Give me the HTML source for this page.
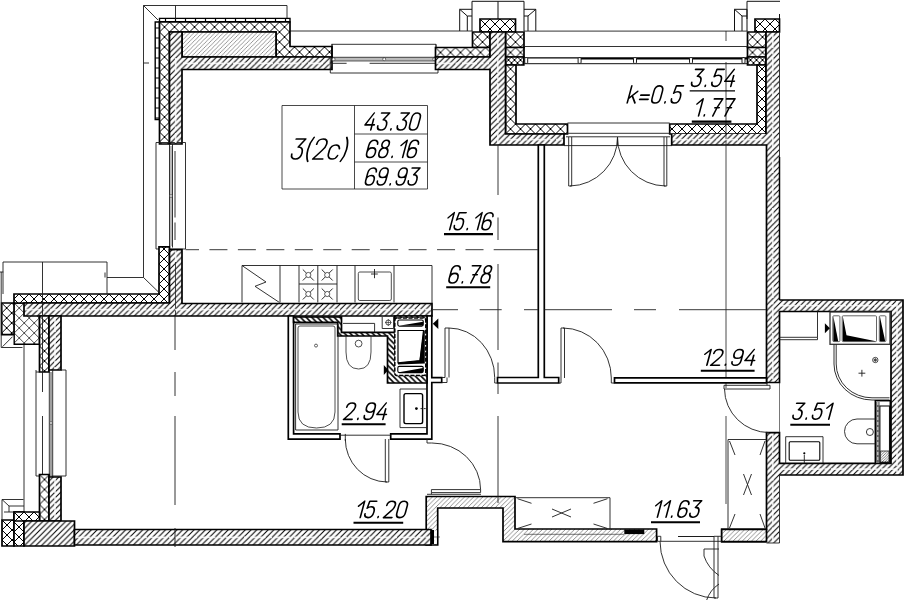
<!DOCTYPE html>
<html><head><meta charset="utf-8"><title>Plan</title>
<style>html,body{margin:0;padding:0;background:#fff;font-family:"Liberation Sans",sans-serif;}body{width:905px;height:600px;overflow:hidden}</style>
</head><body>
<svg width="905" height="600" viewBox="0 0 905 600" style="display:block">
<defs><pattern id="c1" patternUnits="userSpaceOnUse" x="159.5" y="22" width="10" height="10"><path d="M0,0 L10,10 M10,0 L0,10" stroke="#000" stroke-width="1.0" fill="none"/></pattern><pattern id="h2" patternUnits="userSpaceOnUse" x="0" y="0" width="4.2" height="4.2"><path d="M-2.1,2.1 L2.1,-2.1 M0,4.2 L4.2,0 M2.1,6.300000000000001 L6.300000000000001,2.1" stroke="#444" stroke-width="0.55" fill="none"/></pattern><pattern id="h3" patternUnits="userSpaceOnUse" x="0" y="0" width="5.7" height="5.7"><path d="M-2.85,2.85 L2.85,-2.85 M0,5.7 L5.7,0 M2.85,8.55 L8.55,2.85" stroke="#000" stroke-width="1.05" fill="none"/></pattern><pattern id="c4" patternUnits="userSpaceOnUse" x="480" y="19" width="10" height="10"><path d="M0,0 L10,10 M10,0 L0,10" stroke="#000" stroke-width="1.0" fill="none"/></pattern><pattern id="c5" patternUnits="userSpaceOnUse" x="472.5" y="32" width="10" height="10"><path d="M0,0 L10,10 M10,0 L0,10" stroke="#000" stroke-width="1.0" fill="none"/></pattern><pattern id="c6" patternUnits="userSpaceOnUse" x="435.5" y="47.5" width="10" height="10"><path d="M0,0 L10,10 M10,0 L0,10" stroke="#000" stroke-width="1.0" fill="none"/></pattern><pattern id="c7" patternUnits="userSpaceOnUse" x="505.5" y="32" width="10" height="10"><path d="M0,0 L10,10 M10,0 L0,10" stroke="#000" stroke-width="1.0" fill="none"/></pattern><pattern id="c8" patternUnits="userSpaceOnUse" x="505.5" y="47.5" width="10" height="10"><path d="M0,0 L10,10 M10,0 L0,10" stroke="#000" stroke-width="1.0" fill="none"/></pattern><pattern id="c9" patternUnits="userSpaceOnUse" x="505.5" y="57" width="6" height="6"><path d="M0,0 L6,6 M6,0 L0,6" stroke="#000" stroke-width="1.0" fill="none"/></pattern><pattern id="c10" patternUnits="userSpaceOnUse" x="505.5" y="64" width="10" height="10"><path d="M0,0 L10,10 M10,0 L0,10" stroke="#000" stroke-width="1.0" fill="none"/></pattern><pattern id="h11" patternUnits="userSpaceOnUse" x="0" y="0" width="5.7" height="5.7"><path d="M-2.85,2.85 L2.85,-2.85 M0,5.7 L5.7,0 M2.85,8.55 L8.55,2.85" stroke="#000" stroke-width="1.05" fill="none"/></pattern><pattern id="c12" patternUnits="userSpaceOnUse" x="755" y="19" width="10" height="10"><path d="M0,0 L10,10 M10,0 L0,10" stroke="#000" stroke-width="1.0" fill="none"/></pattern><pattern id="c13" patternUnits="userSpaceOnUse" x="747.5" y="32" width="10" height="10"><path d="M0,0 L10,10 M10,0 L0,10" stroke="#000" stroke-width="1.0" fill="none"/></pattern><pattern id="c14" patternUnits="userSpaceOnUse" x="747.5" y="47.5" width="10" height="10"><path d="M0,0 L10,10 M10,0 L0,10" stroke="#000" stroke-width="1.0" fill="none"/></pattern><pattern id="c15" patternUnits="userSpaceOnUse" x="747.5" y="57" width="6" height="6"><path d="M0,0 L6,6 M6,0 L0,6" stroke="#000" stroke-width="1.0" fill="none"/></pattern><pattern id="c16" patternUnits="userSpaceOnUse" x="757" y="64" width="10" height="10"><path d="M0,0 L10,10 M10,0 L0,10" stroke="#000" stroke-width="1.0" fill="none"/></pattern><pattern id="h17" patternUnits="userSpaceOnUse" x="0" y="0" width="5.7" height="5.7"><path d="M-2.85,2.85 L2.85,-2.85 M0,5.7 L5.7,0 M2.85,8.55 L8.55,2.85" stroke="#000" stroke-width="1.05" fill="none"/></pattern><pattern id="c18" patternUnits="userSpaceOnUse" x="1.7" y="303" width="10" height="10"><path d="M0,0 L10,10 M10,0 L0,10" stroke="#000" stroke-width="1.0" fill="none"/></pattern><pattern id="c19" patternUnits="userSpaceOnUse" x="14.2" y="303" width="10" height="10"><path d="M0,0 L10,10 M10,0 L0,10" stroke="#222" stroke-width="0.8" fill="none"/></pattern><pattern id="c20" patternUnits="userSpaceOnUse" x="159" y="244" width="10" height="10"><path d="M0,0 L10,10 M10,0 L0,10" stroke="#000" stroke-width="1.0" fill="none"/></pattern><pattern id="h21" patternUnits="userSpaceOnUse" x="0" y="0" width="5.7" height="5.7"><path d="M-2.85,2.85 L2.85,-2.85 M0,5.7 L5.7,0 M2.85,8.55 L8.55,2.85" stroke="#000" stroke-width="1.05" fill="none"/></pattern><pattern id="c22" patternUnits="userSpaceOnUse" x="39.5" y="316" width="10" height="10"><path d="M0,0 L10,10 M10,0 L0,10" stroke="#000" stroke-width="1.0" fill="none"/></pattern><pattern id="h23" patternUnits="userSpaceOnUse" x="0" y="0" width="5.7" height="5.7"><path d="M-2.85,2.85 L2.85,-2.85 M0,5.7 L5.7,0 M2.85,8.55 L8.55,2.85" stroke="#000" stroke-width="1.05" fill="none"/></pattern><pattern id="c24" patternUnits="userSpaceOnUse" x="39.5" y="474.5" width="10" height="10"><path d="M0,0 L10,10 M10,0 L0,10" stroke="#000" stroke-width="1.0" fill="none"/></pattern><pattern id="h25" patternUnits="userSpaceOnUse" x="0" y="0" width="5.7" height="5.7"><path d="M-2.85,2.85 L2.85,-2.85 M0,5.7 L5.7,0 M2.85,8.55 L8.55,2.85" stroke="#000" stroke-width="1.05" fill="none"/></pattern><pattern id="c26" patternUnits="userSpaceOnUse" x="2" y="520" width="10" height="10"><path d="M0,0 L10,10 M10,0 L0,10" stroke="#000" stroke-width="1.0" fill="none"/></pattern><pattern id="c27" patternUnits="userSpaceOnUse" x="14" y="512" width="10" height="10"><path d="M0,0 L10,10 M10,0 L0,10" stroke="#000" stroke-width="1.0" fill="none"/></pattern><pattern id="c28" patternUnits="userSpaceOnUse" x="14" y="512" width="10" height="10"><path d="M0,0 L10,10 M10,0 L0,10" stroke="#000" stroke-width="1.0" fill="none"/></pattern><pattern id="h29" patternUnits="userSpaceOnUse" x="0" y="0" width="5.7" height="5.7"><path d="M-2.85,2.85 L2.85,-2.85 M0,5.7 L5.7,0 M2.85,8.55 L8.55,2.85" stroke="#000" stroke-width="1.05" fill="none"/></pattern><pattern id="h30" patternUnits="userSpaceOnUse" x="0" y="0" width="4.6" height="4.6"><path d="M-2.3,2.3 L2.3,-2.3 M0,4.6 L4.6,0 M2.3,6.8999999999999995 L6.8999999999999995,2.3" stroke="#444" stroke-width="0.6" fill="none"/></pattern><pattern id="h31" patternUnits="userSpaceOnUse" x="0" y="0" width="5.7" height="5.7"><path d="M-2.85,2.85 L2.85,-2.85 M0,5.7 L5.7,0 M2.85,8.55 L8.55,2.85" stroke="#000" stroke-width="1.05" fill="none"/></pattern><pattern id="h32" patternUnits="userSpaceOnUse" x="0" y="0" width="4.6" height="4.6"><path d="M-2.3,2.3 L2.3,-2.3 M0,4.6 L4.6,0 M2.3,6.8999999999999995 L6.8999999999999995,2.3" stroke="#444" stroke-width="0.6" fill="none"/></pattern><pattern id="h33" patternUnits="userSpaceOnUse" x="0" y="0" width="5.6" height="5.6"><path d="M-2.8,2.8 L2.8,8.399999999999999 M0,0 L5.6,5.6 M2.8,-2.8 L8.399999999999999,2.8" stroke="#000" stroke-width="1.5" fill="none"/></pattern><pattern id="h34" patternUnits="userSpaceOnUse" x="0" y="0" width="2.6" height="2.6"><path d="M-1.3,1.3 L1.3,-1.3 M0,2.6 L2.6,0 M1.3,3.9000000000000004 L3.9000000000000004,1.3" stroke="#222" stroke-width="0.6" fill="none"/></pattern></defs>
<rect width="905" height="600" fill="#fff"/>
<path d="M159.5,18.4 L290,18.4 L290,21.8 L159.5,21.8 Z" fill="#fff" stroke="#000" stroke-width="1.4" stroke-linejoin="miter"/>
<path d="M165.5,18.4 L165.5,21.8 M175.5,18.4 L175.5,21.8 M185.5,18.4 L185.5,21.8 M195.5,18.4 L195.5,21.8 M205.5,18.4 L205.5,21.8 M215.5,18.4 L215.5,21.8 M225.5,18.4 L225.5,21.8 M235.5,18.4 L235.5,21.8 M245.5,18.4 L245.5,21.8 M255.5,18.4 L255.5,21.8 M265.5,18.4 L265.5,21.8 M275.5,18.4 L275.5,21.8 M285.5,18.4 L285.5,21.8 " fill="none" stroke="#000" stroke-width="1.2"/>
<path d="M155.2,22 L159.5,22 L159.5,119.5 L155.2,119.5 Z" fill="#fff" stroke="#000" stroke-width="1.4" stroke-linejoin="miter"/>
<path d="M155.2,28 L159.5,28 M155.2,38 L159.5,38 M155.2,48 L159.5,48 M155.2,58 L159.5,58 M155.2,68 L159.5,68 M155.2,78 L159.5,78 M155.2,88 L159.5,88 M155.2,98 L159.5,98 M155.2,108 L159.5,108 M155.2,118 L159.5,118 " fill="none" stroke="#000" stroke-width="1.2"/>
<path d="M143.5,277.5 L143.5,5.5 L287,5.5 L287,18 M175.5,5.5 L175.5,19 M143.5,5.5 L158,20 M143.5,63 L149,63" fill="none" stroke="#1c1c1c" stroke-width="0.9"/>
<path d="M290,31 L472.5,31" fill="none" stroke="#1c1c1c" stroke-width="0.9"/>
<path d="M159.5,22 L290,22 L290,46.5 L332,46.5 L332,57 L276,57 L276,32 L169.5,32 L169.5,144 L159.5,144 Z" fill="#fff" stroke="none"/>
<path d="M159.5,22 L290,22 L290,46.5 L332,46.5 L332,57 L276,57 L276,32 L169.5,32 L169.5,144 L159.5,144 Z" fill="url(#c1)" stroke="#000" stroke-width="1.7" stroke-linejoin="miter"/>
<path d="M182,32 L276,32 L276,57 L182,57 Z" fill="#fff" stroke="none"/>
<path d="M182,32 L276,32 L276,57 L182,57 Z" fill="url(#h2)" stroke="#000" stroke-width="1.7" stroke-linejoin="miter"/>
<path d="M169.5,32 L182,32 L182,57 L332,57 L332,69.5 L182,69.5 L182,144 L169.5,144 Z" fill="#fff" stroke="none"/>
<path d="M169.5,32 L182,32 L182,57 L332,57 L332,69.5 L182,69.5 L182,144 L169.5,144 Z" fill="url(#h3)" stroke="#000" stroke-width="1.7" stroke-linejoin="miter"/>
<path d="M331.5,44.3 L436,44.3 M330.3,57.3 L330.3,73 L438,73 L438,57.3" fill="none" stroke="#1c1c1c" stroke-width="0.9"/>
<path d="M333,57.3 L435,57.3 M333,60.9 L435,60.9 M332,63.3 L346.6,63.3 M369.6,63.3 L436,63.3" fill="none" stroke="#1c1c1c" stroke-width="0.9"/>
<path d="M333,59 L435,59" fill="none" stroke="#777" stroke-width="1.0"/>
<circle cx="333.6" cy="59.2" r="1.5" fill="#fff" stroke="#222" stroke-width="0.6"/>
<circle cx="384.2" cy="59.2" r="1.5" fill="#fff" stroke="#222" stroke-width="0.6"/>
<circle cx="434.2" cy="59.2" r="1.5" fill="#fff" stroke="#222" stroke-width="0.6"/>
<path d="M332,44.3 L332,57 M436,44.3 L436,57" fill="none" stroke="#000" stroke-width="1.2" stroke-linejoin="miter"/>
<path d="M472,31 L472,1.3 L524,1.3 L524,31 M498,1.3 L498,19 M459.7,31 L459.7,9.3 L472,9.3 M467.3,31 L467.3,16 L459.7,9.3 M467.3,16 L472,16 M524,9.3 L535.8,9.3 L535.8,31 M528,31 L528,16 L535.8,9.3 M528,16 L524,16" fill="none" stroke="#111" stroke-width="1.0"/>
<path d="M480,19 L515.5,19 L515.5,32 L480,32 Z" fill="#fff" stroke="none"/>
<path d="M480,19 L515.5,19 L515.5,32 L480,32 Z" fill="url(#c4)" stroke="#000" stroke-width="1.7" stroke-linejoin="miter"/>
<path d="M472.5,32 L490,32 L490,47.5 L472.5,47.5 Z" fill="#fff" stroke="none"/>
<path d="M472.5,32 L490,32 L490,47.5 L472.5,47.5 Z" fill="url(#c5)" stroke="#000" stroke-width="1.7" stroke-linejoin="miter"/>
<path d="M435.5,47.5 L490,47.5 L490,57 L435.5,57 Z" fill="#fff" stroke="none"/>
<path d="M435.5,47.5 L490,47.5 L490,57 L435.5,57 Z" fill="url(#c6)" stroke="#000" stroke-width="1.7" stroke-linejoin="miter"/>
<path d="M505.5,32 L524,32 L524,47.5 L505.5,47.5 Z" fill="#fff" stroke="none"/>
<path d="M505.5,32 L524,32 L524,47.5 L505.5,47.5 Z" fill="url(#c7)" stroke="#000" stroke-width="1.7" stroke-linejoin="miter"/>
<path d="M505.5,47.5 L524,47.5 L524,57 L505.5,57 Z" fill="#fff" stroke="none"/>
<path d="M505.5,47.5 L524,47.5 L524,57 L505.5,57 Z" fill="url(#c8)" stroke="#000" stroke-width="1.7" stroke-linejoin="miter"/>
<path d="M505.5,57 L523.8,57 L523.8,65 L505.5,65 Z" fill="#fff" stroke="none"/>
<path d="M505.5,57 L523.8,57 L523.8,65 L505.5,65 Z" fill="url(#c9)" stroke="#000" stroke-width="1.7" stroke-linejoin="miter"/>
<path d="M505.5,65 L516,65 L516,124 L567.5,124 L567.5,134 L505.5,134 Z" fill="#fff" stroke="none"/>
<path d="M505.5,65 L516,65 L516,124 L567.5,124 L567.5,134 L505.5,134 Z" fill="url(#c10)" stroke="#000" stroke-width="1.7" stroke-linejoin="miter"/>
<path d="M435.5,57 L490,57 L490,32 L505.5,32 L505.5,134 L564,134 L564,145 L490,145 L490,69.5 L435.5,69.5 Z" fill="#fff" stroke="none"/>
<path d="M435.5,57 L490,57 L490,32 L505.5,32 L505.5,134 L564,134 L564,145 L490,145 L490,69.5 L435.5,69.5 Z" fill="url(#h11)" stroke="#000" stroke-width="1.7" stroke-linejoin="miter"/>
<path d="M734.5,31 L734.5,9.3 L747,9.3 L747,31 M742,31 L742,16 L734.5,9.3 M742,16 L747,16 M747,19 L747,1.3 L780,1.3 M779.5,14 L779.5,19" fill="none" stroke="#111" stroke-width="1.0"/>
<path d="M755,19 L779.5,19 L779.5,32 L755,32 Z" fill="#fff" stroke="none"/>
<path d="M755,19 L779.5,19 L779.5,32 L755,32 Z" fill="url(#c12)" stroke="#000" stroke-width="1.7" stroke-linejoin="miter"/>
<path d="M747.5,32 L766,32 L766,47.5 L747.5,47.5 Z" fill="#fff" stroke="none"/>
<path d="M747.5,32 L766,32 L766,47.5 L747.5,47.5 Z" fill="url(#c13)" stroke="#000" stroke-width="1.7" stroke-linejoin="miter"/>
<path d="M747.5,47.5 L766,47.5 L766,57 L747.5,57 Z" fill="#fff" stroke="none"/>
<path d="M747.5,47.5 L766,47.5 L766,57 L747.5,57 Z" fill="url(#c14)" stroke="#000" stroke-width="1.7" stroke-linejoin="miter"/>
<path d="M747.5,57 L766,57 L766,65 L747.5,65 Z" fill="#fff" stroke="none"/>
<path d="M747.5,57 L766,57 L766,65 L747.5,65 Z" fill="url(#c15)" stroke="#000" stroke-width="1.7" stroke-linejoin="miter"/>
<path d="M757,65 L766,65 L766,134 L669.7,134 L669.7,124 L757,124 Z" fill="#fff" stroke="none"/>
<path d="M757,65 L766,65 L766,134 L669.7,134 L669.7,124 L757,124 Z" fill="url(#c16)" stroke="#000" stroke-width="1.7" stroke-linejoin="miter"/>
<path d="M766,32 L779.5,32 L779.5,300 L903,300 L903,475 L779.5,475 L779.5,543 L766.5,543 L766.5,541.7 L721.7,541.7 L721.7,529.3 L766.5,529.3 L766.5,432.6 L779.5,432.6 L779.5,463.3 L891,463.3 L891,311.5 L779.5,311.5 L779.5,382.5 L766.5,382.5 L766,145 L671.7,145 L671.7,134 L766,134 Z" fill="#fff" stroke="none"/>
<path d="M766,32 L779.5,32 L779.5,300 L903,300 L903,475 L779.5,475 L779.5,543 L766.5,543 L766.5,541.7 L721.7,541.7 L721.7,529.3 L766.5,529.3 L766.5,432.6 L779.5,432.6 L779.5,463.3 L891,463.3 L891,311.5 L779.5,311.5 L779.5,382.5 L766.5,382.5 L766,145 L671.7,145 L671.7,134 L766,134 Z" fill="url(#h17)" stroke="none" stroke-linejoin="miter"/>
<path d="M766,32 L766,134 M671.7,134 L671.7,145 L766.5,145 L766.5,382.5 L779.5,382.5 L779.5,311.5 L891,311.5 L891,463.3 L779.5,463.3 L779.5,432.6 L766.5,432.6 L766.5,529.3 L721.7,529.3 L721.7,541.7 L766.5,541.7 M766,32 L779.5,32 M779.5,300 L903,300 L903,475 L779.5,475" fill="none" stroke="#000" stroke-width="1.7" stroke-linejoin="miter"/>
<path d="M779.5,32 L779.5,157 M779.5,475 L779.5,543 M766.5,543 L779.5,543" fill="none" stroke="#222" stroke-width="0.9"/>
<path d="M779.5,157 L779.5,300" fill="none" stroke="#000" stroke-width="1.5" stroke-linejoin="miter"/>
<path d="M524,31.1 L747.5,31.1 M524,46.5 L747.5,46.5" fill="none" stroke="#1c1c1c" stroke-width="0.9"/>
<path d="M524,57.8 L579,57.8" fill="none" stroke="#000" stroke-width="1.3" stroke-linejoin="miter"/>
<path d="M579,58.4 L747.5,58.4" fill="none" stroke="#000" stroke-width="2.2" stroke-linejoin="miter"/>
<path d="M524,63.7 L747.5,63.7" fill="none" stroke="#111" stroke-width="1.0"/>
<rect x="524.7" y="57.6" width="3" height="5.8" rx="1" fill="#fff" stroke="#000" stroke-width="0.9"/>
<rect x="578.1" y="57.6" width="3" height="5.8" rx="1" fill="#fff" stroke="#000" stroke-width="0.9"/>
<rect x="633.5" y="57.6" width="3" height="5.8" rx="1" fill="#fff" stroke="#000" stroke-width="0.9"/>
<rect x="689.5" y="57.6" width="3" height="5.8" rx="1" fill="#fff" stroke="#000" stroke-width="0.9"/>
<rect x="742.0" y="57.6" width="3" height="5.8" rx="1" fill="#fff" stroke="#000" stroke-width="0.9"/>
<path d="M726,31 L726,41 M726,62 L726,388 M726,416 L726,504" fill="none" stroke="#1c1c1c" stroke-width="0.8"/>
<path d="M567.5,123 L669.7,123 M567,133.3 L670,133.3 M566,136.8 L670,136.8 M564,145.6 L672,145.6 M617.5,137 L617.5,145.6" fill="none" stroke="#1c1c1c" stroke-width="0.9"/>
<path d="M568.7,137 L568.7,186 L571.7,186 L571.7,137 M664,137 L664,186 L666.8,186 L666.8,137" fill="none" stroke="#1c1c1c" stroke-width="0.9"/>
<path d="M570,186 A48.5,48.5 0 0 0 617.5,137 A48.5,48.5 0 0 0 665.5,186" fill="none" stroke="#1c1c1c" stroke-width="0.9"/>
<path d="M156,142.5 L185.5,142.5 L185.5,249 L156,249 Z" fill="none" stroke="#1c1c1c" stroke-width="0.9"/>
<path d="M169.5,144 L169.5,247.5 M172.5,144 L172.5,247.5" fill="none" stroke="#1c1c1c" stroke-width="0.9"/>
<path d="M171,146 L171,246" fill="none" stroke="#777" stroke-width="1.0"/>
<circle cx="171" cy="196" r="1.4" fill="#fff" stroke="#222" stroke-width="0.6"/>
<path d="M175,151 L175,217.5 M175,222.5 L175,240" fill="none" stroke="#1c1c1c" stroke-width="0.9"/>
<path d="M1.7,303 L14.2,303 L14.2,334.7 L1.7,334.7 Z" fill="#fff" stroke="none"/>
<path d="M1.7,303 L14.2,303 L14.2,334.7 L1.7,334.7 Z" fill="url(#c18)" stroke="#000" stroke-width="1.7" stroke-linejoin="miter"/>
<path d="M14.2,303 L39.5,303 L39.5,344.3 L14.2,344.3 Z" fill="#fff" stroke="none"/>
<path d="M14.2,303 L39.5,303 L39.5,344.3 L14.2,344.3 Z" fill="url(#c19)" stroke="#000" stroke-width="1.4" stroke-linejoin="miter"/>
<path d="M159,246.8 L169.5,246.8 L169.5,303 L14,303 L14,294 L159,294 Z" fill="#fff" stroke="none"/>
<path d="M159,246.8 L169.5,246.8 L169.5,303 L14,303 L14,294 L159,294 Z" fill="url(#c20)" stroke="#000" stroke-width="1.7" stroke-linejoin="miter"/>
<path d="M169.5,249.6 L182,249.6 L182,303.5 L432,303.5 L432,316 L24,316 L24,303 L169.5,303 Z" fill="#fff" stroke="none"/>
<path d="M169.5,249.6 L182,249.6 L182,303.5 L432,303.5 L432,316 L24,316 L24,303 L169.5,303 Z" fill="url(#h21)" stroke="#000" stroke-width="1.7" stroke-linejoin="miter"/>
<path d="M1.2,272 L1.2,347.5 L22.5,347.5 M12.5,336.7 L2.5,346.7 M24,344.5 L24,511.5" fill="none" stroke="#1c1c1c" stroke-width="0.9"/>
<path d="M39.5,316 L49,316 L49,372 L39.5,372 Z" fill="#fff" stroke="none"/>
<path d="M39.5,316 L49,316 L49,372 L39.5,372 Z" fill="url(#c22)" stroke="#000" stroke-width="1.7" stroke-linejoin="miter"/>
<path d="M49,316 L61,316 L61,370 L49,370 Z" fill="#fff" stroke="none"/>
<path d="M49,316 L61,316 L61,370 L49,370 Z" fill="url(#h23)" stroke="#000" stroke-width="1.7" stroke-linejoin="miter"/>
<path d="M143.5,277.5 L159,292.5 M3,294 L3,262 L107,262 L107,294 M42.5,262 L42.5,392 M105,272.5 L105,277.5 M107,277.5 L143.5,277.5 M0,272 L3.3,272" fill="none" stroke="#1c1c1c" stroke-width="0.9"/>
<path d="M36,370 L36,476 L66,476 L66,370 M39.5,372 L36,372 M61,370 L66,370 M42.5,416 L42.5,476" fill="none" stroke="#1c1c1c" stroke-width="0.9"/>
<path d="M49.3,372 L49.3,476 M52.7,370 L52.7,477" fill="none" stroke="#1c1c1c" stroke-width="0.9"/>
<path d="M51,372 L51,476" fill="none" stroke="#888" stroke-width="1.6"/>
<circle cx="51" cy="423" r="1.4" fill="#fff" stroke="#222" stroke-width="0.6"/>
<path d="M39.5,474.5 L49,474.5 L49,521 L39.5,521 Z" fill="#fff" stroke="none"/>
<path d="M39.5,474.5 L49,474.5 L49,521 L39.5,521 Z" fill="url(#c24)" stroke="#000" stroke-width="1.7" stroke-linejoin="miter"/>
<path d="M49,477 L61,477 L61,521 L49,521 Z" fill="#fff" stroke="none"/>
<path d="M49,477 L61,477 L61,521 L49,521 Z" fill="url(#h25)" stroke="#000" stroke-width="1.7" stroke-linejoin="miter"/>
<path d="M2,520 L14,520 L14,546 L2,546 Z" fill="#fff" stroke="none"/>
<path d="M2,520 L14,520 L14,546 L2,546 Z" fill="url(#c26)" stroke="#000" stroke-width="1.7" stroke-linejoin="miter"/>
<path d="M14,512 L24,512 L24,546 L14,546 Z" fill="#fff" stroke="none"/>
<path d="M14,512 L24,512 L24,546 L14,546 Z" fill="url(#c27)" stroke="#000" stroke-width="1.7" stroke-linejoin="miter"/>
<path d="M14,512 L39.5,512 L39.5,521 L14,521 Z" fill="#fff" stroke="none"/>
<path d="M14,512 L39.5,512 L39.5,521 L14,521 Z" fill="url(#c28)" stroke="#000" stroke-width="1.7" stroke-linejoin="miter"/>
<path d="M2,520 L2,499.5 L23.5,499.5 M2,499.5 L9,506 L24,506 M9,506 L9,512 M4,512 L14,512" fill="none" stroke="#1c1c1c" stroke-width="0.9"/>
<path d="M24,521 L74.5,521 L74.5,546 L24,546 Z" fill="#fff" stroke="none"/>
<path d="M24,521 L74.5,521 L74.5,546 L24,546 Z" fill="url(#h29)" stroke="#000" stroke-width="1.7" stroke-linejoin="miter"/>
<path d="M426.2,496.5 L515,496.5 L515,529 L656.6,529 L656.6,541.7 L503,541.7 L503,508 L437.7,508 L437.7,545 L426.2,545 Z" fill="#fff" stroke="none"/>
<path d="M426.2,496.5 L515,496.5 L515,529 L656.6,529 L656.6,541.7 L503,541.7 L503,508 L437.7,508 L437.7,545 L426.2,545 Z" fill="url(#h30)" stroke="#000" stroke-width="1.7" stroke-linejoin="miter"/>
<path d="M74.5,529.5 L431,529.5 L431,545 L74.5,545 Z" fill="#fff" stroke="none"/>
<path d="M74.5,529.5 L431,529.5 L431,545 L74.5,545 Z" fill="url(#h31)" stroke="#000" stroke-width="1.7" stroke-linejoin="miter"/>
<rect x="431" y="530" width="3" height="14" fill="#000"/>
<path d="M434.2,530.5 L436.8,530.5 L436.8,544 L434.2,544 Z" fill="#fff" stroke="none"/>
<path d="M434,537 L440,537" fill="none" stroke="#1c1c1c" stroke-width="0.6"/>
<rect x="624.3" y="529.5" width="20" height="4.6" fill="#000"/>
<path d="M524,534.3 L624,534.3" fill="none" stroke="#1c1c1c" stroke-width="0.6"/>
<path d="M721.7,529.3 L766.5,529.3 L766.5,541.7 L721.7,541.7 Z" fill="#fff" stroke="none"/>
<path d="M721.7,529.3 L766.5,529.3 L766.5,541.7 L721.7,541.7 Z" fill="url(#h32)" stroke="#000" stroke-width="1.7" stroke-linejoin="miter"/>
<path d="M175,316 L175,350 M175,372 L175,396 M175,416 L175,505 M175,528 L175,547" fill="none" stroke="#1c1c1c" stroke-width="0.9"/>
<path d="M538.3,145 L544.3,145 L544.3,377.5 L558.7,377.5 L558.7,383 L497.5,383 L497.5,377.5 L538.3,377.5 Z" fill="#fff" stroke="#000" stroke-width="1.7" stroke-linejoin="miter"/>
<path d="M614.5,377.8 L766.5,377.8 L766.5,382.8 L614.5,382.8 Z" fill="#fff" stroke="#000" stroke-width="1.7" stroke-linejoin="miter"/>
<path d="M288.3,316 L293.6,316 L293.6,433.9 L340,433.9 L340,439.1 L288.3,439.1 Z" fill="#fff" stroke="#000" stroke-width="1.7" stroke-linejoin="miter"/>
<path d="M390.7,433.9 L427,433.9 L427,316 L431.8,316 L431.8,377.7 L441.7,377.7 L441.7,382.5 L431.8,382.5 L431.8,439.1 L390.7,439.1 Z" fill="#fff" stroke="#000" stroke-width="1.7" stroke-linejoin="miter"/>
<path d="M183,63.3 L331,63.3 M437,63.3 L489,63.3" fill="none" stroke="#fff" stroke-opacity="0.8" stroke-width="1.7" stroke-dasharray="15 3.5 3 3.5"/>
<path d="M175.7,58 L175.7,143 M175.7,250.5 L175.7,262" fill="none" stroke="#fff" stroke-opacity="0.8" stroke-width="1.7" stroke-dasharray="15 3.5 3 3.5"/>
<path d="M175.5,262 L175.5,316" fill="none" stroke="#1c1c1c" stroke-width="0.8"/>
<path d="M25,309.7 L431,309.7" fill="none" stroke="#fff" stroke-opacity="0.8" stroke-width="1.7" stroke-dasharray="15 3.5 3 3.5"/>
<path d="M75.5,537.3 L430,537.3" fill="none" stroke="#fff" stroke-opacity="0.8" stroke-width="1.7" stroke-dasharray="15 3.5 3 3.5"/>
<path d="M55,317 L55,369 M55,478 L55,520" fill="none" stroke="#fff" stroke-opacity="0.8" stroke-width="1.7" stroke-dasharray="15 3.5 3 3.5"/>
<path d="M772.8,33 L772.8,381 M772.8,434 L772.8,542" fill="none" stroke="#fff" stroke-opacity="0.8" stroke-width="1.7" stroke-dasharray="15 3.5 3 3.5"/>
<path d="M497.8,33 L497.8,144 M506,139.6 L563,139.6 M673,139.6 L765,139.6" fill="none" stroke="#fff" stroke-opacity="0.8" stroke-width="1.7" stroke-dasharray="15 3.5 3 3.5"/>
<path d="M781,305.7 L902,305.7 M897,301 L897,474 M781,469.2 L902,469.2" fill="none" stroke="#fff" stroke-opacity="0.8" stroke-width="1.7" stroke-dasharray="15 3.5 3 3.5"/>
<path d="M185.5,249.7 L493.7,249.7" fill="none" stroke="#222" stroke-width="0.9" stroke-dasharray="13.5 10.45 18 10.45 18 10.45 18 10.45 18 10.45 18 10.45 18 10.45 18 10.45 18 10.45 18 10.45 18 10.45 18 10.45 18 10.45 "/>
<path d="M493.7,249.7 L538,249.7" fill="none" stroke="#222" stroke-width="0.9"/>
<path d="M431.7,309.7 L458,309.7 M479.7,309.7 L501.7,309.7 M524,309.7 L538,309.7 M544.5,309.7 L612,309.7 M634,309.7 L656,309.7 M679,309.7 L766,309.7" fill="none" stroke="#222" stroke-width="0.9"/>
<path d="M498,145 L498,195 M498,217.5 L498,240 M498,264 L498,350 M498,362.5 L498,377 M498,383 L498,394 M498,416 L498,503" fill="none" stroke="#222" stroke-width="0.9"/>
<path d="M242,302.5 L242,265.5 L432,265.5 L432,303 M280,265.5 L280,302.5 M299,265.5 L299,302.5 M317.8,265.5 L317.8,302.5 M337,265.5 L337,302.5 M355,265.5 L355,302.5 M394,265.5 L394,302.5 M299,284 L337,284" fill="none" stroke="#1c1c1c" stroke-width="0.9"/>
<path d="M242,265.5 L266,282 L255,286.3 L279.5,302.5" fill="none" stroke="#1c1c1c" stroke-width="0.9"/>
<circle cx="308.3" cy="275" r="2.6" fill="none" stroke="#222" stroke-width="0.7"/>
<path d="M302.8,269.5 L306.5,273.2 M310.1,276.8 L313.8,280.5 M313.8,269.5 L310.1,273.2 M306.5,276.8 L302.8,280.5" fill="none" stroke="#1c1c1c" stroke-width="0.9"/>
<circle cx="308.3" cy="294" r="2.6" fill="none" stroke="#222" stroke-width="0.7"/>
<path d="M302.8,288.5 L306.5,292.2 M310.1,295.8 L313.8,299.5 M313.8,288.5 L310.1,292.2 M306.5,295.8 L302.8,299.5" fill="none" stroke="#1c1c1c" stroke-width="0.9"/>
<circle cx="327.2" cy="275" r="2.6" fill="none" stroke="#222" stroke-width="0.7"/>
<path d="M321.7,269.5 L325.4,273.2 M329.0,276.8 L332.7,280.5 M332.7,269.5 L329.0,273.2 M325.4,276.8 L321.7,280.5" fill="none" stroke="#1c1c1c" stroke-width="0.9"/>
<circle cx="327.2" cy="294" r="2.6" fill="none" stroke="#222" stroke-width="0.7"/>
<path d="M321.7,288.5 L325.4,292.2 M329.0,295.8 L332.7,299.5 M332.7,288.5 L329.0,292.2 M325.4,295.8 L321.7,299.5" fill="none" stroke="#1c1c1c" stroke-width="0.9"/>
<rect x="358.3" y="272" width="33" height="28.5" rx="1.5" fill="none" stroke="#222" stroke-width="0.8"/>
<path d="M374.5,269 L374.5,278.2 M371,274 L377.8,274" fill="none" stroke="#1c1c1c" stroke-width="0.9"/>
<path d="M293.6,317 L341.5,317 L341.5,332.3 L394.5,332.3 L394.5,316 L427,316 L427,383 L387.5,383 L387.5,336 L337.7,336 L337.7,322.4 L293.6,322.4 Z" fill="#fff" stroke="none"/>
<path d="M293.6,317 L341.5,317 L341.5,332.3 L394.5,332.3 L394.5,316 L427,316 L427,383 L387.5,383 L387.5,336 L337.7,336 L337.7,322.4 L293.6,322.4 Z" fill="url(#h33)" stroke="#000" stroke-width="1.7" stroke-linejoin="miter"/>
<rect x="394.8" y="318" width="31" height="57.6" rx="2.5" fill="#fff" stroke="#000" stroke-width="1.5" stroke-dasharray="4 1.6"/>
<rect x="397.8" y="320" width="25.5" height="6.2" rx="1.6" fill="#fff" stroke="#000" stroke-width="1.1"/>
<path d="M399,325.8 L423,321.8 L423,325.8 Z" fill="#000"/>
<rect x="397.8" y="366.4" width="25.5" height="6.2" rx="1.6" fill="#fff" stroke="#000" stroke-width="1.1"/>
<path d="M399,372.2 L423,368 L423,372.2 Z" fill="#000"/>
<path d="M398,330.5 L423.5,330.5 L420,360.5 L398,362.8 Z" fill="#fff" stroke="#000" stroke-width="1.2"/>
<path d="M423.5,330.5 L424.8,330.5 L424.8,363.5 L398,364.5 L398,362.8 L419.5,360.5 Z" fill="#000"/>
<path d="M432.8,323.7 L438.3,318.5 L438.3,329 Z" fill="#000"/>
<path d="M388.4,370 L383.8,365 L383.8,375 Z" fill="#000"/>
<path d="M382.2,317 L382.2,328.5 L393.6,328.5 L393.6,317" fill="none" stroke="#1c1c1c" stroke-width="0.9"/>
<circle cx="388.3" cy="322.5" r="2.5" fill="none" stroke="#222" stroke-width="0.8"/>
<path d="M388.3,319 L388.3,326 M385,322.5 L391.5,322.5" fill="none" stroke="#1c1c1c" stroke-width="0.6"/>
<path d="M343,323.4 L374.6,323.4 L374.6,332" fill="none" stroke="#1c1c1c" stroke-width="0.9"/>
<path d="M295.6,324 L338,324 L338,430 L295.6,430 Z" fill="none" stroke="#1c1c1c" stroke-width="0.9"/>
<path d="M298,328 Q298,326 300,326 L333,326 Q335,326 335,328 L335,412 Q335,428 316.5,428 Q298,428 298,412 Z" fill="none" stroke="#222" stroke-width="0.8"/>
<circle cx="316" cy="345.6" r="1.5" fill="none" stroke="#222" stroke-width="0.7"/>
<path d="M346,336 L346,352 Q346,369 358.6,369 Q371,369 371,352 L371,336" fill="none" stroke="#222" stroke-width="0.8"/>
<circle cx="358.6" cy="343.6" r="3.4" fill="none" stroke="#222" stroke-width="0.8"/>
<path d="M427,389 L400,389 L400,427.6 L427,427.6" fill="none" stroke="#1c1c1c" stroke-width="0.9"/>
<rect x="404" y="393.6" width="18.6" height="30" rx="1.8" fill="none" stroke="#000" stroke-width="1.4"/>
<circle cx="416.4" cy="408.6" r="1.4" fill="#000"/>
<path d="M420.5,408.6 L427,408.6" fill="none" stroke="#1c1c1c" stroke-width="0.9" stroke-dasharray="2 1.2"/>
<path d="M340,435.2 L390.7,435.2 M345.3,433.9 L345.3,441 M385.3,439 L385.3,482 L388.8,482 L388.8,439" fill="none" stroke="#1c1c1c" stroke-width="0.9"/>
<path d="M345.3,439 A42,43 0 0 0 387,482" fill="none" stroke="#1c1c1c" stroke-width="0.9"/>
<path d="M445,377.5 L445,328 L449,328 L449,377.5 M441.7,377.5 L445,377.5 M441.7,382.5 L447,382.5 L447,377.5" fill="none" stroke="#1c1c1c" stroke-width="0.9"/>
<path d="M449,328 A46,49.5 0 0 1 494.7,377.5 M494.7,377.5 L494.7,383 L497.5,383" fill="none" stroke="#1c1c1c" stroke-width="0.9"/>
<path d="M561,383 L561,328 L564.5,328 L564.5,378 M558.7,383 L561,383" fill="none" stroke="#1c1c1c" stroke-width="0.9"/>
<path d="M563,328 A48.5,50 0 0 1 611.3,378 L611.3,383 L614.5,383" fill="none" stroke="#1c1c1c" stroke-width="0.9"/>
<path d="M431.9,443 L427,443 L427,439.1 M431.4,489.6 L480.6,489.6 L480.6,492.6 L431.4,492.6 Z M431.4,492.6 L431.4,494.3 M427,494.3 L481,494.3" fill="none" stroke="#1c1c1c" stroke-width="0.9"/>
<path d="M432,443 A48.5,46.6 0 0 1 480.6,489.6" fill="none" stroke="#1c1c1c" stroke-width="0.9"/>
<path d="M724,385.3 L770,385.3 L770,389 L724,389 Z M767,382.8 L767,385.3" fill="none" stroke="#1c1c1c" stroke-width="0.9"/>
<path d="M724.5,389 A45,44 0 0 0 769,432.6" fill="none" stroke="#1c1c1c" stroke-width="0.9"/>
<path d="M779.5,382.5 L779.5,432.6" fill="none" stroke="#1c1c1c" stroke-width="0.6"/>
<path d="M657.5,536.3 L657.5,541.3 L721.7,541.3 M660.8,536.3 L660.8,541.3 M657.5,536.3 L660.8,536.3" fill="none" stroke="#1c1c1c" stroke-width="0.9"/>
<path d="M678,536.5 L714,536.5" fill="none" stroke="#1c1c1c" stroke-width="1.0"/>
<path d="M714,536.3 L714,598 L718,598 L718,536.3 M714,536.3 L721.7,536.3" fill="none" stroke="#1c1c1c" stroke-width="0.9"/>
<path d="M660,541.3 A56,57 0 0 0 716,598" fill="none" stroke="#1c1c1c" stroke-width="0.9"/>
<path d="M704,556 L704,549 L719,549 M704,556 Q708,568 719,575.5 M706.7,600 Q710,590 719,584" fill="none" stroke="#1c1c1c" stroke-width="0.9"/>
<path d="M515,497.7 L610,497.7 L610,529.5" fill="none" stroke="#1c1c1c" stroke-width="0.9"/>
<path d="M552,509 L571,517 M552,517 L571,509" fill="none" stroke="#1c1c1c" stroke-width="0.9"/>
<path d="M517.5,498.7 L531.5,503.3 M607.5,498.7 L593.5,503.3 M517.5,528.5 L531.5,524 M607.5,528.5 L593.5,524" fill="none" stroke="#1c1c1c" stroke-width="0.9"/>
<path d="M728,529.5 L728,439.5 L766.5,439.5" fill="none" stroke="#1c1c1c" stroke-width="0.9"/>
<path d="M743.5,474 L751.5,495 M751.5,474 L743.5,495" fill="none" stroke="#1c1c1c" stroke-width="0.9"/>
<path d="M729.5,441 L735,455 M765,441 L760,455 M729.5,528 L735,514 M765,528 L760,514" fill="none" stroke="#1c1c1c" stroke-width="0.9"/>
<path d="M817.5,311.5 L817.5,337.3 L779.5,337.3 M779.5,339.7 L817.5,339.7 L817.5,337.3" fill="none" stroke="#1c1c1c" stroke-width="0.9"/>
<rect x="830" y="312" width="60" height="32.3" fill="#fff" stroke="#333" stroke-width="1.3"/>
<rect x="832.8" y="315.8" width="7.1" height="25.8" rx="1" fill="#fff" stroke="#555" stroke-width="0.9"/>
<path d="M833.4,316.5 L838.2,341.2 L833.4,341.2 Z" fill="#000"/>
<rect x="842.2" y="315.8" width="34.3" height="25.8" rx="1" fill="#fff" stroke="#555" stroke-width="0.9"/>
<path d="M842.8,316.5 L846.5,335.3 L876,341.2 L842.8,341.2 Z" fill="#000"/>
<rect x="879.3" y="315.8" width="6.6" height="25.8" rx="1" fill="#fff" stroke="#555" stroke-width="0.9"/>
<path d="M879.9,316.5 L885.2,341.2 L879.9,341.2 Z" fill="#000"/>
<path d="M824.9,323.3 L829.9,328.2 L824.9,333.2 Z" fill="#000"/>
<path d="M834,344.3 L834,364 A38,36 0 0 0 872,400 L889.5,400 M836.2,344.3 L836.2,364 A35.8,33.8 0 0 0 872,397.8 L889.5,397.8" fill="none" stroke="#1c1c1c" stroke-width="0.9"/>
<circle cx="875.3" cy="360" r="2.7" fill="none" stroke="#222" stroke-width="0.8"/>
<path d="M875.3,358.1 L877.2,360 L875.3,361.9 L873.4,360 Z" fill="#444"/>
<path d="M861.9,369.8 L861.9,376.6 M858.5,373.2 L865.3,373.2" fill="none" stroke="#1c1c1c" stroke-width="0.9"/>
<rect x="875.3" y="400.7" width="15" height="62.5" fill="#fff" stroke="#000" stroke-width="1.5"/>
<rect x="876" y="402" width="3.6" height="60" fill="#666"/>
<path d="M877.8,402 L877.8,462" fill="none" stroke="#fff" stroke-width="0.8" stroke-dasharray="3 2"/>
<rect x="879.9" y="406" width="9.6" height="56.4" fill="#fff" stroke="#111" stroke-width="1.1"/>
<path d="M880.4,451 L889,451 L889,462 L880.4,462 Z" fill="#fff" stroke="none"/>
<path d="M880.4,451 L889,451 L889,462 L880.4,462 Z" fill="url(#h34)" stroke="#000" stroke-width="0.7" stroke-linejoin="miter"/>
<path d="M875.3,419 L857,419 A12.5,12.4 0 0 0 857,443.8 L875.3,443.8" fill="none" stroke="#222" stroke-width="0.9"/>
<circle cx="869.9" cy="432" r="3.5" fill="none" stroke="#222" stroke-width="0.9"/>
<path d="M785.7,463.3 L785.7,436.7 L823,436.7 L823,463.3" fill="none" stroke="#1c1c1c" stroke-width="0.9"/>
<rect x="789.2" y="441.7" width="30.6" height="18.6" rx="1" fill="none" stroke="#000" stroke-width="1.1"/>
<circle cx="804.3" cy="453.3" r="1.1" fill="#000"/>
<path d="M804.3,455 L804.3,463.3" fill="none" stroke="#1c1c1c" stroke-width="0.9"/>
<path d="M282,105.5 L427.5,105.5 L427.5,189 L282,189 Z M354.5,105.5 L354.5,189 M354.5,134 L427.5,134 M354.5,162 L427.5,162" fill="none" stroke="#1c1c1c" stroke-width="0.8"/>
<g transform="translate(363.63,130) skewX(-15) scale(1.6925,1.7000) translate(0,-10)" fill="none" stroke="#000" stroke-width="0.943" stroke-linecap="round" stroke-linejoin="round"><path d="M3.6,0 L0,7 L5.5,7 M4.2,3.6 L4.2,10" transform="translate(0,0)"/><path d="M0.2,0 L5,0 L2.3,4 C4,4 5,5.2 5,7 C5,8.9 4,10 2.5,10 C1,10 0,9 0,7.6" transform="translate(7.7,0)"/><path d="M0.3,9.3 L0.3,10" transform="translate(15.7,0)"/><path d="M0.2,0 L5,0 L2.3,4 C4,4 5,5.2 5,7 C5,8.9 4,10 2.5,10 C1,10 0,9 0,7.6" transform="translate(19.3,0)"/><path d="M2.5,0 C1,0 0,1.1 0,2.8 L0,7.2 C0,8.9 1,10 2.5,10 C4,10 5,8.9 5,7.2 L5,2.8 C5,1.1 4,0 2.5,0 Z" transform="translate(26.5,0)"/></g>
<g transform="translate(365.54,157.5) skewX(-15) scale(1.7004,1.7200) translate(0,-10)" fill="none" stroke="#000" stroke-width="0.936" stroke-linecap="round" stroke-linejoin="round"><path d="M5,2.3 C5,1 4,0 2.6,0 C1,0 0,1.2 0,3 L0,7.4 C0,9 1,10 2.5,10 C4,10 5,9 5,7.2 C5,5.5 4,4.4 2.5,4.4 C1,4.4 0,5.5 0,7" transform="translate(0,0)"/><path d="M2.5,0 C1.2,0 0.4,0.9 0.4,2.2 C0.4,3.6 1.3,4.5 2.5,4.5 C3.7,4.5 4.6,3.6 4.6,2.2 C4.6,0.9 3.8,0 2.5,0 Z M2.5,4.5 C1,4.5 0,5.6 0,7.2 C0,8.9 1,10 2.5,10 C4,10 5,8.9 5,7.2 C5,5.6 4,4.5 2.5,4.5 Z" transform="translate(7.2,0)"/><path d="M0.3,9.3 L0.3,10" transform="translate(15.2,0)"/><path d="M0.2,3 L3,0 L3,10" transform="translate(18.8,0)"/><path d="M5,2.3 C5,1 4,0 2.6,0 C1,0 0,1.2 0,3 L0,7.4 C0,9 1,10 2.5,10 C4,10 5,9 5,7.2 C5,5.5 4,4.4 2.5,4.4 C1,4.4 0,5.5 0,7" transform="translate(24,0)"/></g>
<g transform="translate(364.54,185) skewX(-15) scale(1.6419,1.7000) translate(0,-10)" fill="none" stroke="#000" stroke-width="0.958" stroke-linecap="round" stroke-linejoin="round"><path d="M5,2.3 C5,1 4,0 2.6,0 C1,0 0,1.2 0,3 L0,7.4 C0,9 1,10 2.5,10 C4,10 5,9 5,7.2 C5,5.5 4,4.4 2.5,4.4 C1,4.4 0,5.5 0,7" transform="translate(0,0)"/><path d="M0,7.7 C0,9 1,10 2.4,10 C4,10 5,8.8 5,7 L5,2.6 C5,1 4,0 2.5,0 C1,0 0,1 0,2.8 C0,4.5 1,5.6 2.5,5.6 C4,5.6 5,4.5 5,3" transform="translate(7.2,0)"/><path d="M0.3,9.3 L0.3,10" transform="translate(15.2,0)"/><path d="M0,7.7 C0,9 1,10 2.4,10 C4,10 5,8.8 5,7 L5,2.6 C5,1 4,0 2.5,0 C1,0 0,1 0,2.8 C0,4.5 1,5.6 2.5,5.6 C4,5.6 5,4.5 5,3" transform="translate(18.8,0)"/><path d="M0.2,0 L5,0 L2.3,4 C4,4 5,5.2 5,7 C5,8.9 4,10 2.5,10 C1,10 0,9 0,7.6" transform="translate(26,0)"/></g>
<g transform="translate(290.46,159) skewX(-15) scale(1.9897,2.0000) translate(0,-10)" fill="none" stroke="#000" stroke-width="0.852" stroke-linecap="round" stroke-linejoin="round"><path d="M0.2,0 L5,0 L2.3,4 C4,4 5,5.2 5,7 C5,8.9 4,10 2.5,10 C1,10 0,9 0,7.6" transform="translate(0,0)"/><path d="M1.8,-0.8 C-0.2,2.5 -0.2,8 1.8,11.2" transform="translate(7.2,0)"/><path d="M0,2.6 C0,1 1,0 2.5,0 C4,0 5,1 5,2.5 C5,3.9 4.4,4.8 3.4,5.9 L0,10 L5,10" transform="translate(11.2,0)"/><path d="M4.8,4.8 C4.5,3.7 3.7,3 2.6,3 C1.1,3 0,4 0,5.6 L0,7.5 C0,9 1.1,10 2.6,10 C3.7,10 4.5,9.4 4.8,8.3" transform="translate(18.4,0)"/><path d="M0,-0.8 C2,2.5 2,8 0,11.2" transform="translate(25.4,0)"/></g>
<g transform="translate(627.20,103) skewX(-15) scale(1.6869,1.7100) translate(0,-10)" fill="none" stroke="#000" stroke-width="0.942" stroke-linecap="round" stroke-linejoin="round"><path d="M0,0 L0,10 M4.4,3.2 L0,7.4 M1.8,5.7 L4.6,10" transform="translate(0,0)"/><path d="M0,5.4 L5,5.4 M0,7.9 L5,7.9" transform="translate(6.8,0)"/><path d="M2.5,0 C1,0 0,1.1 0,2.8 L0,7.2 C0,8.9 1,10 2.5,10 C4,10 5,8.9 5,7.2 L5,2.8 C5,1.1 4,0 2.5,0 Z" transform="translate(14,0)"/><path d="M0.3,9.3 L0.3,10" transform="translate(22,0)"/><path d="M5,0 L0.9,0 L0.4,4.3 C1,3.7 1.8,3.4 2.6,3.4 C4,3.4 5,4.6 5,6.6 C5,8.8 4,10 2.5,10 C1,10 0,9 0,7.6" transform="translate(25.6,0)"/></g>
<g transform="translate(690.64,86.4) skewX(-15) scale(1.7444,1.7000) translate(0,-10)" fill="none" stroke="#000" stroke-width="0.929" stroke-linecap="round" stroke-linejoin="round"><path d="M0.2,0 L5,0 L2.3,4 C4,4 5,5.2 5,7 C5,8.9 4,10 2.5,10 C1,10 0,9 0,7.6" transform="translate(0,0)"/><path d="M0.3,9.3 L0.3,10" transform="translate(8,0)"/><path d="M5,0 L0.9,0 L0.4,4.3 C1,3.7 1.8,3.4 2.6,3.4 C4,3.4 5,4.6 5,6.6 C5,8.8 4,10 2.5,10 C1,10 0,9 0,7.6" transform="translate(11.6,0)"/><path d="M3.6,0 L0,7 L5.5,7 M4.2,3.6 L4.2,10" transform="translate(18.8,0)"/></g>
<path d="M689.7,90.9 L735,90.9" fill="none" stroke="#000" stroke-width="1.4"/>
<g transform="translate(693.45,116) skewX(-15) scale(1.6956,1.7100) translate(0,-10)" fill="none" stroke="#000" stroke-width="0.940" stroke-linecap="round" stroke-linejoin="round"><path d="M0.2,3 L3,0 L3,10" transform="translate(0,0)"/><path d="M0.3,9.3 L0.3,10" transform="translate(6,0)"/><path d="M0,0 L5,0 C3.6,3 2.4,6.5 1.8,10 M1.7,5.2 L4.3,5.2" transform="translate(9.6,0)"/><path d="M0,0 L5,0 C3.6,3 2.4,6.5 1.8,10 M1.7,5.2 L4.3,5.2" transform="translate(16.8,0)"/></g>
<path d="M691.8,121.6 L731.4,121.6" stroke="#000" stroke-width="2.1"/>
<g transform="translate(444.68,229.7) skewX(-15) scale(1.6563,1.7000) translate(0,-10)" fill="none" stroke="#000" stroke-width="0.953" stroke-linecap="round" stroke-linejoin="round"><path d="M0.2,3 L3,0 L3,10" transform="translate(0,0)"/><path d="M5,0 L0.9,0 L0.4,4.3 C1,3.7 1.8,3.4 2.6,3.4 C4,3.4 5,4.6 5,6.6 C5,8.8 4,10 2.5,10 C1,10 0,9 0,7.6" transform="translate(5.2,0)"/><path d="M0.3,9.3 L0.3,10" transform="translate(13.2,0)"/><path d="M0.2,3 L3,0 L3,10" transform="translate(16.8,0)"/><path d="M5,2.3 C5,1 4,0 2.6,0 C1,0 0,1.2 0,3 L0,7.4 C0,9 1,10 2.5,10 C4,10 5,9 5,7.2 C5,5.5 4,4.4 2.5,4.4 C1,4.4 0,5.5 0,7" transform="translate(22,0)"/></g>
<path d="M444,234.1 L493,234.1" stroke="#000" stroke-width="2.1"/>
<g transform="translate(448.04,283) skewX(-15) scale(1.6994,1.7200) translate(0,-10)" fill="none" stroke="#000" stroke-width="0.936" stroke-linecap="round" stroke-linejoin="round"><path d="M5,2.3 C5,1 4,0 2.6,0 C1,0 0,1.2 0,3 L0,7.4 C0,9 1,10 2.5,10 C4,10 5,9 5,7.2 C5,5.5 4,4.4 2.5,4.4 C1,4.4 0,5.5 0,7" transform="translate(0,0)"/><path d="M0.3,9.3 L0.3,10" transform="translate(8,0)"/><path d="M0,0 L5,0 C3.6,3 2.4,6.5 1.8,10 M1.7,5.2 L4.3,5.2" transform="translate(11.6,0)"/><path d="M2.5,0 C1.2,0 0.4,0.9 0.4,2.2 C0.4,3.6 1.3,4.5 2.5,4.5 C3.7,4.5 4.6,3.6 4.6,2.2 C4.6,0.9 3.8,0 2.5,0 Z M2.5,4.5 C1,4.5 0,5.6 0,7.2 C0,8.9 1,10 2.5,10 C4,10 5,8.9 5,7.2 C5,5.6 4,4.5 2.5,4.5 Z" transform="translate(18.8,0)"/></g>
<path d="M446.2,287.3 L490.2,287.3" stroke="#000" stroke-width="2.1"/>
<g transform="translate(343.50,419.4) skewX(-15) scale(1.7112,1.6400) translate(0,-10)" fill="none" stroke="#000" stroke-width="0.955" stroke-linecap="round" stroke-linejoin="round"><path d="M0,2.6 C0,1 1,0 2.5,0 C4,0 5,1 5,2.5 C5,3.9 4.4,4.8 3.4,5.9 L0,10 L5,10" transform="translate(0,0)"/><path d="M0.3,9.3 L0.3,10" transform="translate(8,0)"/><path d="M0,7.7 C0,9 1,10 2.4,10 C4,10 5,8.8 5,7 L5,2.6 C5,1 4,0 2.5,0 C1,0 0,1 0,2.8 C0,4.5 1,5.6 2.5,5.6 C4,5.6 5,4.5 5,3" transform="translate(11.6,0)"/><path d="M3.6,0 L0,7 L5.5,7 M4.2,3.6 L4.2,10" transform="translate(18.8,0)"/></g>
<path d="M341.7,424.3 L385.6,424.3" stroke="#000" stroke-width="2.1"/>
<g transform="translate(355.19,517.6) skewX(-15) scale(1.6863,1.6400) translate(0,-10)" fill="none" stroke="#000" stroke-width="0.962" stroke-linecap="round" stroke-linejoin="round"><path d="M0.2,3 L3,0 L3,10" transform="translate(0,0)"/><path d="M5,0 L0.9,0 L0.4,4.3 C1,3.7 1.8,3.4 2.6,3.4 C4,3.4 5,4.6 5,6.6 C5,8.8 4,10 2.5,10 C1,10 0,9 0,7.6" transform="translate(5.2,0)"/><path d="M0.3,9.3 L0.3,10" transform="translate(13.2,0)"/><path d="M0,2.6 C0,1 1,0 2.5,0 C4,0 5,1 5,2.5 C5,3.9 4.4,4.8 3.4,5.9 L0,10 L5,10" transform="translate(16.8,0)"/><path d="M2.5,0 C1,0 0,1.1 0,2.8 L0,7.2 C0,8.9 1,10 2.5,10 C4,10 5,8.9 5,7.2 L5,2.8 C5,1.1 4,0 2.5,0 Z" transform="translate(24,0)"/></g>
<path d="M353.5,522.7 L403.2,522.7" stroke="#000" stroke-width="2.1"/>
<g transform="translate(652.39,517.2) skewX(-15) scale(1.6635,1.6400) translate(0,-10)" fill="none" stroke="#000" stroke-width="0.969" stroke-linecap="round" stroke-linejoin="round"><path d="M0.2,3 L3,0 L3,10" transform="translate(0,0)"/><path d="M0.2,3 L3,0 L3,10" transform="translate(5.2,0)"/><path d="M0.3,9.3 L0.3,10" transform="translate(11.2,0)"/><path d="M5,2.3 C5,1 4,0 2.6,0 C1,0 0,1.2 0,3 L0,7.4 C0,9 1,10 2.5,10 C4,10 5,9 5,7.2 C5,5.5 4,4.4 2.5,4.4 C1,4.4 0,5.5 0,7" transform="translate(14.8,0)"/><path d="M0.2,0 L5,0 L2.3,4 C4,4 5,5.2 5,7 C5,8.9 4,10 2.5,10 C1,10 0,9 0,7.6" transform="translate(22,0)"/></g>
<path d="M651,522.2 L700,522.2" stroke="#000" stroke-width="2.1"/>
<g transform="translate(701.59,365.3) skewX(-15) scale(1.7540,1.5800) translate(0,-10)" fill="none" stroke="#000" stroke-width="0.960" stroke-linecap="round" stroke-linejoin="round"><path d="M0.2,3 L3,0 L3,10" transform="translate(0,0)"/><path d="M0,2.6 C0,1 1,0 2.5,0 C4,0 5,1 5,2.5 C5,3.9 4.4,4.8 3.4,5.9 L0,10 L5,10" transform="translate(5.2,0)"/><path d="M0.3,9.3 L0.3,10" transform="translate(13.2,0)"/><path d="M0,7.7 C0,9 1,10 2.4,10 C4,10 5,8.8 5,7 L5,2.6 C5,1 4,0 2.5,0 C1,0 0,1 0,2.8 C0,4.5 1,5.6 2.5,5.6 C4,5.6 5,4.5 5,3" transform="translate(16.8,0)"/><path d="M3.6,0 L0,7 L5.5,7 M4.2,3.6 L4.2,10" transform="translate(24,0)"/></g>
<path d="M700.8,370.7 L754.6,370.7" stroke="#000" stroke-width="2.1"/>
<g transform="translate(792.07,419.2) skewX(-15) scale(1.6819,1.5900) translate(0,-10)" fill="none" stroke="#000" stroke-width="0.978" stroke-linecap="round" stroke-linejoin="round"><path d="M0.2,0 L5,0 L2.3,4 C4,4 5,5.2 5,7 C5,8.9 4,10 2.5,10 C1,10 0,9 0,7.6" transform="translate(0,0)"/><path d="M0.3,9.3 L0.3,10" transform="translate(8,0)"/><path d="M5,0 L0.9,0 L0.4,4.3 C1,3.7 1.8,3.4 2.6,3.4 C4,3.4 5,4.6 5,6.6 C5,8.8 4,10 2.5,10 C1,10 0,9 0,7.6" transform="translate(11.6,0)"/><path d="M0.2,3 L3,0 L3,10" transform="translate(18.8,0)"/></g>
<path d="M790.3,424.7 L830,424.7" stroke="#000" stroke-width="2.1"/>
</svg>
</body></html>
